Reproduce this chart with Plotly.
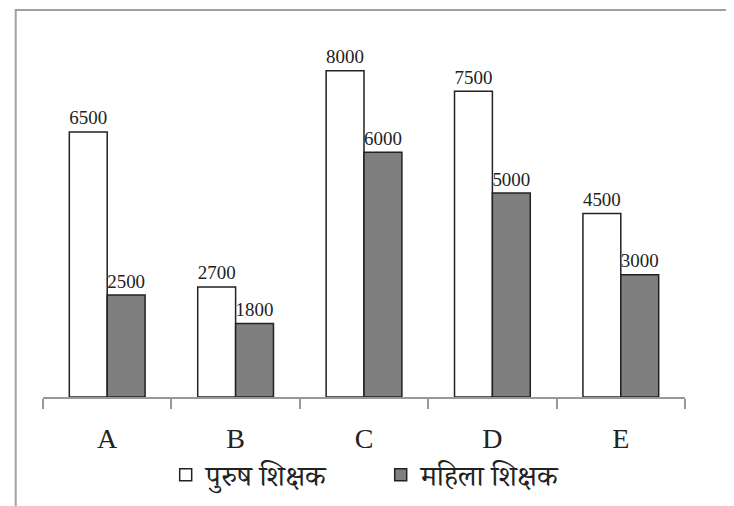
import plotly.graph_objects as go

categories = ["A", "B", "C", "D", "E"]
male_teachers = [6500, 2700, 8000, 7500, 4500]
female_teachers = [2500, 1800, 6000, 5000, 3000]
series_names = ["पुरुष शिक्षक", "महिला शिक्षक"]

serif = "Liberation Serif"
label_font = dict(family=serif, size=21, color="#222222")

fig = go.Figure()
fig.add_trace(go.Bar(
    x=categories, y=male_teachers, name=series_names[0],
    marker=dict(color="white", line=dict(color="#222222", width=1.5)),
    text=[str(v) for v in male_teachers], textposition="outside",
    textfont=label_font, outsidetextfont=label_font, cliponaxis=False,
))
fig.add_trace(go.Bar(
    x=categories, y=female_teachers, name=series_names[1],
    marker=dict(color="#7f7f7f", line=dict(color="#222222", width=1.5)),
    text=[str(v) for v in female_teachers], textposition="outside",
    textfont=label_font, outsidetextfont=label_font, cliponaxis=False,
))

fig.update_layout(
    width=726, height=498,
    margin=dict(l=35, r=49, t=22, b=109, autoexpand=False),
    paper_bgcolor="white", plot_bgcolor="white",
    barmode="group", bargap=0.41, bargroupgap=0,
    showlegend=True,
    legend=dict(orientation="h", x=0.526, xanchor="center", y=-0.2125, yanchor="middle",
                font=dict(family="Noto Serif Devanagari, Noto Sans, sans-serif", size=29, color="#222222"),
                itemwidth=30, traceorder="normal", entrywidth=170, entrywidthmode="pixels"),
    xaxis=dict(showline=True, linecolor="#999999", linewidth=1.5, automargin=False,
               ticks="outside", tickson="boundaries", ticklen=10, tickcolor="#999999",
               tickwidth=1.5, ticklabelstandoff=16,
               tickfont=dict(family=serif, size=28, color="#222222"), showgrid=False),
    yaxis=dict(range=[0, 9000], visible=False, showgrid=False),
    shapes=[dict(type="rect", xref="paper", yref="paper",
                 x0=-0.0425, x1=1.078, y0=-0.4, y1=1.0545,
                 line=dict(color="#a0a0a0", width=2), fillcolor="rgba(0,0,0,0)")],
)

fig.write_html("out.html")
